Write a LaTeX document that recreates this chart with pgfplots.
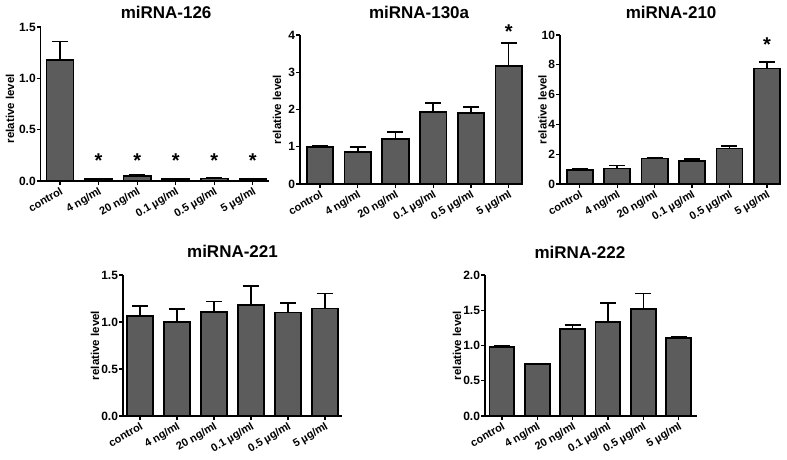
\documentclass[border=0pt]{standalone}
\usepackage{fontspec}
\setmainfont{Liberation Sans}
\usepackage{pgfplots}
\pgfplotsset{compat=1.18}
\definecolor{barfill}{RGB}{92,92,92}
\pgfplotsset{
  panel/.style={
    scale only axis,
    axis lines=left,
    axis line style={-, line width=1.3pt, black},
    xtick={0,1,2,3,4,5},
    xticklabels={control,4 ng/ml,20 ng/ml,0.1 µg/ml,0.5 µg/ml,5 µg/ml},
    tick align=outside,
    major tick length=4pt,
    tick style={line width=1.2pt, black},
    xticklabel style={rotate=30, anchor=north east, inner sep=1pt, font=\bfseries\fontsize{11}{12}\selectfont},
    yticklabel style={inner sep=0.8pt, font=\bfseries\fontsize{12}{13}\selectfont},
    /pgf/number format/assume math mode=true,
    ymin=0,
    clip=false,
    ylabel={relative level},
    ylabel style={font=\bfseries\fontsize{11.5}{13}\selectfont, anchor=center},
    every axis title shift=0pt,
    title style={font=\bfseries\fontsize{17}{19}\selectfont, anchor=center},
  },
  bars/.style={
    ybar, bar width=0.70, bar shift=0pt,
    fill=barfill, draw=black, line width=1.7pt,
    error bars/.cd, y dir=plus, y explicit,
    error bar style={line width=1.6pt, black},
    error mark options={rotate=90, mark size=8pt, line width=1.6pt, black},
  },
  stars/.style={
    draw=none, mark=none,
    nodes near coords={*},
    every node near coord/.append style={anchor=center, inner sep=0pt, font=\bfseries\fontsize{20}{20}\selectfont, black},
  },
}
\begin{document}
\begin{tikzpicture}
\useasboundingbox (0,0) rectangle (787pt,459pt);
% miRNA-126
\begin{axis}[panel, at={(40.7pt,278pt)}, anchor=south west, width=228pt, height=154pt,
  xmin=-0.5, xmax=5.41, ymax=1.5, ytick={0,0.5,1,1.5},
  yticklabel style={/pgf/number format/.cd, fixed, fixed zerofill, precision=1},
  ylabel style={at={(axis description cs:-0.135,0.47)}},
  title={miRNA-126}, title style={at={(axis description cs:0.55,1.097)}}]
\addplot[bars] coordinates {(0,1.18) +- (0,0.18) (1,0.02) +- (0,0.005) (2,0.05) +- (0,0.015) (3,0.02) +- (0,0.004) (4,0.025) +- (0,0.004) (5,0.02) +- (0,0.004)};
\addplot[stars] coordinates {(1,0.20) (2,0.20) (3,0.20) (4,0.20) (5,0.20)};
\end{axis}
% miRNA-130a
\begin{axis}[panel, at={(300pt,275pt)}, anchor=south west, width=223pt, height=149pt,
  xmin=-0.53, xmax=5.38, ymax=4, ytick={0,1,2,3,4},
  ylabel style={at={(axis description cs:-0.103,0.5)}},
  title={miRNA-130a}, title style={at={(axis description cs:0.534,1.154)}}]
\addplot[bars] coordinates {(0,1.00) +- (0,0.03) (1,0.86) +- (0,0.14) (2,1.21) +- (0,0.19) (3,1.93) +- (0,0.25) (4,1.90) +- (0,0.16) (5,3.17) +- (0,0.61)};
\addplot[stars] coordinates {(5,4.08)};
\end{axis}
% miRNA-210
\begin{axis}[panel, at={(560pt,275pt)}, anchor=south west, width=220pt, height=149pt,
  xmin=-0.53, xmax=5.35, ymax=10, ytick={0,2,4,6,8,10},
  ylabel style={at={(axis description cs:-0.080,0.5)}},
  title={miRNA-210}, title style={at={(axis description cs:0.505,1.154)}}]
\addplot[bars] coordinates {(0,0.94) +- (0,0.05) (1,1.05) +- (0,0.18) (2,1.72) +- (0,0.07) (3,1.54) +- (0,0.14) (4,2.39) +- (0,0.18) (5,7.76) +- (0,0.41)};
\addplot[stars] coordinates {(5,9.33)};
\end{axis}
% miRNA-221
\begin{axis}[panel, at={(123pt,43pt)}, anchor=south west, width=219pt, height=141pt,
  xmin=-0.46, xmax=5.46, ymax=1.5, ytick={0,0.5,1,1.5},
  yticklabel style={/pgf/number format/.cd, fixed, fixed zerofill, precision=1},
  ylabel style={at={(axis description cs:-0.128,0.5)}},
  title={miRNA-221}, title style={at={(axis description cs:0.50,1.167)}}]
\addplot[bars] coordinates {(0,1.064) +- (0,0.106) (1,1.00) +- (0,0.14) (2,1.11) +- (0,0.11) (3,1.18) +- (0,0.20) (4,1.10) +- (0,0.10) (5,1.145) +- (0,0.16)};
\end{axis}
% miRNA-222
\begin{axis}[panel, at={(485pt,43pt)}, anchor=south west, width=212pt, height=141pt,
  xmin=-0.48, xmax=5.52, ymax=2, ytick={0,0.5,1,1.5,2},
  yticklabel style={/pgf/number format/.cd, fixed, fixed zerofill, precision=1},
  ylabel style={at={(axis description cs:-0.132,0.5)}},
  title={miRNA-222}, title style={at={(axis description cs:0.448,1.163)}}]
\addplot[bars] coordinates {(0,0.974) +- (0,0.026) (1,0.74) +- (0,0.0) (2,1.234) +- (0,0.061) (3,1.33) +- (0,0.27) (4,1.52) +- (0,0.215) (5,1.11) +- (0,0.02)};
\end{axis}
\end{tikzpicture}
\end{document}
